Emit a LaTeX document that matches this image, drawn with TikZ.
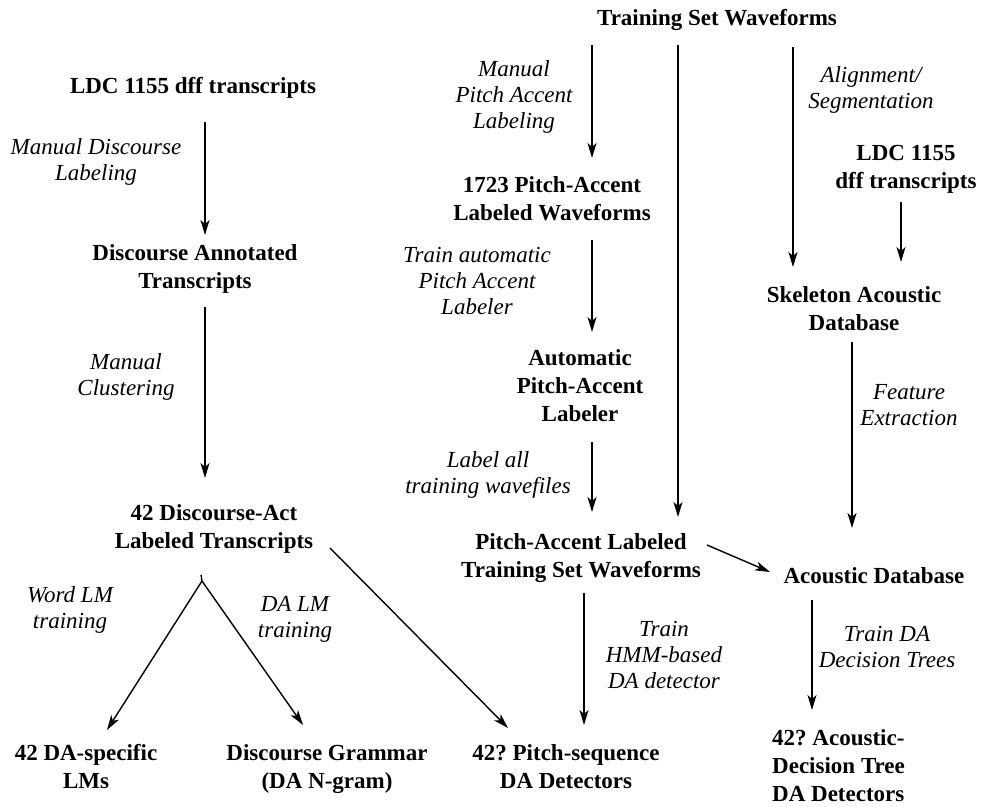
\documentclass[tikz,border=0pt]{standalone}
\usepackage{fontspec}
\setmainfont{Liberation Serif}
\usetikzlibrary{arrows.meta}
\frenchspacing
\begin{document}
\begin{tikzpicture}[x=1pt,y=-1pt,
  box/.style={font=\fontsize{23}{28}\selectfont\bfseries, align=center, inner sep=0pt, anchor=base},
  lbl/.style={font=\fontsize{23}{26}\selectfont\itshape, align=center, inner sep=0pt, anchor=base},
  arr/.style={-{Stealth[length=15pt,width=9pt,inset=4pt]}, line width=1.4pt},
  ln/.style={line width=1.4pt}]
\useasboundingbox (0,0) rectangle (981,806);
% main nodes (placed at the baseline of their last line)
\node[box] (train) at (717,25) {Training Set Waveforms};
\node[box] (ldcL) at (193,93) {LDC 1155 dff transcripts};
\node[box] (dat) at (195,288) {Discourse Annotated\\Transcripts};
\node[box] (dact) at (214,548) {42 Discourse-Act\\Labeled Transcripts};
\node[box] (lms) at (86,788) {42 DA-specific\\LMs};
\node[box] (grammar) at (327,788) {Discourse Grammar\\(DA N-gram)};
\node[box] (pseq) at (566,788) {42? Pitch-sequence\\DA Detectors};
\node[box, align=left, anchor=base west] (adt) at (772,801) {42? Acoustic-\\Decision Tree\\DA Detectors};
\node[box] (pa) at (552,220) {1723 Pitch-Accent\\Labeled Waveforms};
\node[box] (apal) at (580,421) {Automatic\\Pitch-Accent\\Labeler};
\node[box] (patsw) at (581,577) {Pitch-Accent Labeled\\Training Set Waveforms};
\node[box] (ldcR) at (906,188) {LDC 1155\\dff transcripts};
\node[box] (skel) at (854,330) {Skeleton Acoustic\\Database};
\node[box] (adb) at (874,583) {Acoustic Database};
% labels
\node[lbl] (l1) at (96,180) {Manual Discourse\\Labeling};
\node[lbl] (l2) at (126,395) {Manual\\Clustering};
\node[lbl] (l3) at (70,628) {Word LM\\training};
\node[lbl] (l4) at (295,637) {DA LM\\training};
\node[lbl] (l5) at (514,128) {Manual\\Pitch Accent\\Labeling};
\node[lbl] (l6) at (477,314) {Train automatic\\Pitch Accent\\Labeler};
\node[lbl] (l7) at (488,493) {Label all\\training wavefiles};
\node[lbl] (l8) at (871,108) {Alignment/\\Segmentation};
\node[lbl] (l9) at (909,425) {Feature\\Extraction};
\node[lbl] (l10) at (664,688) {Train\\HMM-based\\DA detector};
\node[lbl] (l11) at (887,667) {Train DA\\Decision Trees};
% connectors
\draw[arr] ([xshift=12pt,yshift=-29pt]ldcL.base) -- ([xshift=10pt,yshift=53pt]dat.base);
\draw[arr] ([xshift=10pt,yshift=-19pt]dat.base) -- ([xshift=-9pt,yshift=70pt]dact.base);
\draw[arr] ([xshift=-125pt,yshift=-20pt]train.base) -- ([xshift=40pt,yshift=62pt]pa.base);
\draw[arr] ([xshift=-39pt,yshift=-20pt]train.base) -- ([xshift=97pt,yshift=60pt]patsw.base);
\draw[arr] ([xshift=76pt,yshift=-22pt]train.base) -- ([xshift=-61pt,yshift=63pt]skel.base);
\draw[arr] ([xshift=-5pt,yshift=-14pt]ldcR.base) -- ([xshift=47pt,yshift=68pt]skel.base);
\draw[arr] ([xshift=40pt,yshift=-20pt]pa.base) -- ([xshift=12pt,yshift=89pt]apal.base);
\draw[arr] ([xshift=12pt,yshift=-21pt]apal.base) -- ([xshift=11pt,yshift=65pt]patsw.base);
\draw[arr] ([xshift=-2pt,yshift=-12pt]skel.base) -- ([xshift=-22pt,yshift=55pt]adb.base);
\draw[arr] ([xshift=126pt,yshift=32pt]patsw.base) -- ([xshift=-104pt,yshift=11pt]adb.base);
\draw[arr] ([xshift=3pt,yshift=-16pt]patsw.base) -- ([xshift=18pt,yshift=63pt]pseq.base);
\draw[arr] ([xshift=-62pt,yshift=-17pt]adb.base) -- ([xshift=40pt,yshift=91pt]adt.base west);
\draw[arr] ([xshift=116pt,yshift=0pt]dact.base) -- ([xshift=-58pt,yshift=60pt]pseq.base);
\coordinate (br) at ([xshift=-12pt,yshift=-33pt]dact.base);
\draw[ln] (br) -- ++(-1,-6);
\draw[arr] (br) -- ([xshift=21pt,yshift=58pt]lms.base);
\draw[arr] (br) -- ([xshift=-24pt,yshift=63pt]grammar.base);
\end{tikzpicture}
\end{document}
